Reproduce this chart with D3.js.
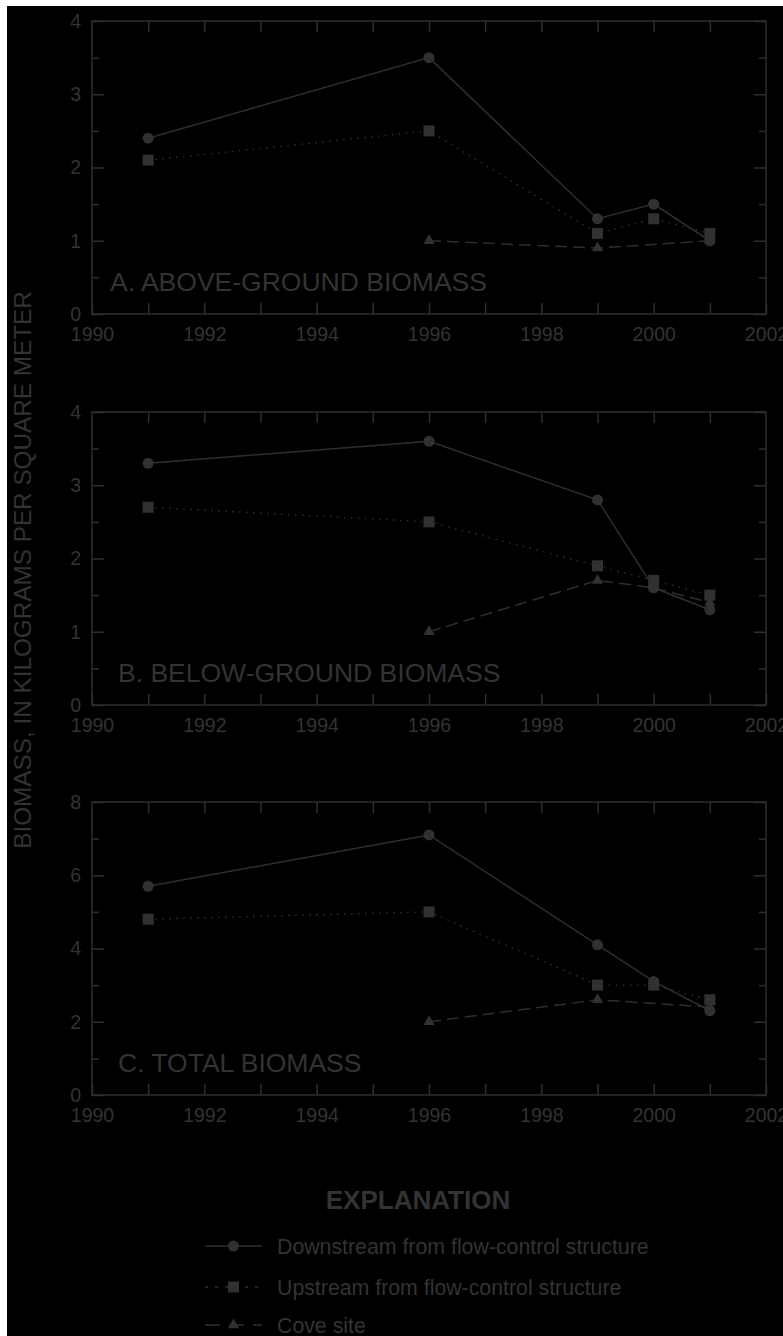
<!DOCTYPE html>
<html>
<head>
<meta charset="utf-8">
<script src="https://cdn.jsdelivr.net/npm/d3@7"></script>
<style>
  html, body { margin: 0; padding: 0; background: #ffffff; }
  svg { display: block; }
  text { font-family: "Liberation Sans", Arial, Helvetica, sans-serif; }
</style>
</head>
<body>
<svg id="chart" width="783" height="1336"></svg>
<script>
// ---------- data ----------
const years = [1991, 1996, 1999, 2000, 2001];
const axisYears = [1990, 1991, 1992, 1993, 1994, 1995, 1996, 1997, 1998, 1999, 2000, 2001, 2002];

const aboveDown  = [2.4, 3.5, 1.3, 1.5, 1.0];
const aboveUp    = [2.1, 2.5, 1.1, 1.3, 1.1];
const aboveCove  = [null, 1.0, 0.9, null, 1.0];

const belowDown  = [3.3, 3.6, 2.8, 1.6, 1.3];
const belowUp    = [2.7, 2.5, 1.9, 1.7, 1.5];
const belowCove  = [null, 1.0, 1.7, 1.6, 1.4];

const totalDown  = [5.7, 7.1, 4.1, 3.1, 2.3];
const totalUp    = [4.8, 5.0, 3.0, 3.0, 2.6];
const totalCove  = [null, 2.0, 2.6, null, 2.4];

const panelTitles = ["A. ABOVE-GROUND BIOMASS", "B. BELOW-GROUND BIOMASS", "C. TOTAL BIOMASS"];
const yMaxes = [4, 4, 8];
const yMajorTicks = [[0, 1, 2, 3, 4], [0, 1, 2, 3, 4], [0, 2, 4, 6, 8]];
const yMinorTicks = [[0.5, 1.5, 2.5, 3.5], [0.5, 1.5, 2.5, 3.5], [1, 3, 5, 7]];

const seriesNames = ["Downstream from flow-control structure", "Upstream from flow-control structure", "Cove site"];
const yAxisLabel = "BIOMASS, IN KILOGRAMS PER SQUARE METER";
const legendTitle = "EXPLANATION";

const panelData = [
  [aboveDown, aboveUp, aboveCove],
  [belowDown, belowUp, belowCove],
  [totalDown, totalUp, totalCove]
];

// ---------- styling ----------
const INK = "#2e2e2e";
const TXT = "#333333";
const MARK = "#313131";
const dashes = [null, "1.5,5.5", "12,6"];
const markers = ["circle", "square", "triangle"];

const svg = d3.select("#chart");
svg.append("rect").attr("x", 7).attr("y", 6).attr("width", 776).attr("height", 1330).attr("fill", "#000000");

const left = 92, right = 766;
const panelTops = [21, 412, 802];
const panelH = 293;
const titleX = [110, 118, 118];

const x = d3.scaleLinear().domain([1990, 2002]).range([left, right]);

function drawMarker(g, type, cx, cy) {
  if (type === "circle") {
    g.append("circle").attr("cx", cx).attr("cy", cy).attr("r", 5.5).attr("fill", MARK);
  } else if (type === "square") {
    g.append("rect").attr("x", cx - 5.5).attr("y", cy - 5.5).attr("width", 11).attr("height", 11).attr("fill", MARK);
  } else {
    g.append("path").attr("d", d3.symbol().type(d3.symbolTriangle).size(55)()).attr("transform", `translate(${cx},${cy})`).attr("fill", MARK);
  }
}

panelTops.forEach((top, i) => {
  const bottom = top + panelH;
  const y = d3.scaleLinear().domain([0, yMaxes[i]]).range([bottom, top]);
  const g = svg.append("g");

  // frame
  g.append("rect").attr("x", left).attr("y", top).attr("width", right - left).attr("height", panelH)
    .attr("fill", "none").attr("stroke", INK).attr("stroke-width", 1.5);

  const styleAxis = sel => {
    sel.select(".domain").remove();
    sel.selectAll(".tick line").attr("stroke", INK).attr("stroke-width", 1.5);
    sel.selectAll(".tick text").attr("fill", TXT).style("font-size", "19.5px").style("font-family", "Liberation Sans, Arial, sans-serif");
  };

  // bottom axis
  g.append("g").attr("transform", `translate(0,${bottom})`)
    .call(d3.axisBottom(x).tickValues(axisYears).tickSizeInner(-11).tickSizeOuter(0).tickPadding(13)
      .tickFormat(d => d % 2 === 0 ? d3.format("d")(d) : ""))
    .call(styleAxis);
  // top axis
  g.append("g").attr("transform", `translate(0,${top})`)
    .call(d3.axisTop(x).tickValues(axisYears.slice(1, -1)).tickSizeInner(-11).tickSizeOuter(0).tickFormat(""))
    .call(styleAxis);
  // left axis major
  g.append("g").attr("transform", `translate(${left},0)`)
    .call(d3.axisLeft(y).tickValues(yMajorTicks[i]).tickSizeInner(-12).tickSizeOuter(0).tickPadding(11).tickFormat(d3.format("d")))
    .call(styleAxis);
  // left axis minor
  g.append("g").attr("transform", `translate(${left},0)`)
    .call(d3.axisLeft(y).tickValues(yMinorTicks[i]).tickSizeInner(-7).tickSizeOuter(0).tickFormat(""))
    .call(styleAxis);
  // right axis major & minor
  g.append("g").attr("transform", `translate(${right},0)`)
    .call(d3.axisRight(y).tickValues(yMajorTicks[i]).tickSizeInner(-12).tickSizeOuter(0).tickFormat(""))
    .call(styleAxis);
  g.append("g").attr("transform", `translate(${right},0)`)
    .call(d3.axisRight(y).tickValues(yMinorTicks[i]).tickSizeInner(-7).tickSizeOuter(0).tickFormat(""))
    .call(styleAxis);

  // title
  g.append("text").attr("x", titleX[i]).attr("y", bottom - 23).attr("fill", TXT)
    .style("font-size", "26.5px").text(panelTitles[i]);

  // series (cove first, downstream on top)
  [2, 1, 0].forEach(s => {
    const vals = panelData[i][s];
    const pts = years.map((yr, k) => ({ yr, v: vals[k] })).filter(p => p.v !== null);
    const line = d3.line().x(p => x(p.yr)).y(p => y(p.v));
    g.append("path").datum(pts).attr("d", line).attr("fill", "none").attr("stroke", INK)
      .attr("stroke-width", 1.5).attr("stroke-dasharray", dashes[s]);
    pts.forEach(p => drawMarker(g, markers[s], x(p.yr), y(p.v)));
  });
});

// y-axis label
svg.append("text").attr("transform", "translate(31,570) rotate(-90)").attr("text-anchor", "middle")
  .attr("fill", TXT).style("font-size", "24.3px").text(yAxisLabel);

// legend
svg.append("text").attr("x", 418).attr("y", 1209).attr("text-anchor", "middle").attr("fill", TXT)
  .style("font-size", "26px").style("font-weight", "bold").text(legendTitle);
const legendY = [1246, 1287, 1325];
seriesNames.forEach((name, s) => {
  const ly = legendY[s];
  const lg = svg.append("g");
  lg.append("line").attr("x1", 205).attr("x2", 262).attr("y1", ly).attr("y2", ly)
    .attr("stroke", INK).attr("stroke-width", 1.5).attr("stroke-dasharray", s === 1 ? "3,7" : s === 2 ? "15,9" : null);
  drawMarker(lg, markers[s], 233.5, ly);
  lg.append("text").attr("x", 277).attr("y", ly + 8).attr("fill", TXT).style("font-size", "21.3px").text(name);
});
</script>
</body>
</html>
